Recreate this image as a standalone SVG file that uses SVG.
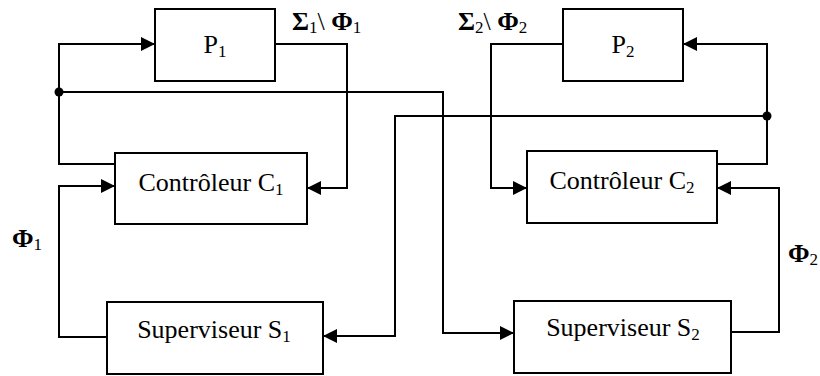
<svg xmlns="http://www.w3.org/2000/svg" width="820" height="376" viewBox="0 0 820 376">
<style>
.box{fill:#fff;stroke:#000;stroke-width:2}
.ln{fill:none;stroke:#000;stroke-width:2;marker-end:url(#ah)}
text{font-family:"Liberation Serif","Times New Roman",serif;font-size:26px;fill:#000}
.sub{font-size:17px}
.g{font-weight:bold}
</style>
<defs>
<marker id="ah" markerUnits="userSpaceOnUse" markerWidth="14" markerHeight="14" viewBox="0 0 13 13" refX="13" refY="6.5" orient="auto">
<path d="M0,0 L13,6.5 L0,13 Z" fill="#000"/>
</marker>
</defs>
<rect width="820" height="376" fill="#fff"/>
<g id="connectors">
<path class="ln" d="M115,164 H59 V44 H155"/>
<path class="ln" d="M59,92 H443 V333 H514"/>
<path class="ln" d="M275,44 H347 V188 H307"/>
<path class="ln" d="M107,337 H59 V186 H115"/>
<path class="ln" d="M717,164 H767 V44 H683"/>
<path class="ln" d="M767,116 H395 V336 H323"/>
<path class="ln" d="M563,44 H491 V188 H527"/>
<path class="ln" d="M731,332 H779 V188 H717"/>
<circle cx="59" cy="92" r="4.5" fill="#000"/>
<circle cx="767" cy="116" r="4.5" fill="#000"/>
</g>
<g id="P1">
<rect class="box" x="155" y="9" width="120" height="72"/>
<text x="215" y="53" text-anchor="middle">P<tspan class="sub" dy="4">1</tspan></text>
</g>
<g id="P2">
<rect class="box" x="563" y="9" width="120" height="72"/>
<text x="623" y="53" text-anchor="middle">P<tspan class="sub" dy="4">2</tspan></text>
</g>
<g id="C1">
<rect class="box" x="115" y="153" width="192" height="71"/>
<text x="211" y="191" text-anchor="middle">Contrôleur C<tspan class="sub" dy="4">1</tspan></text>
</g>
<g id="C2">
<rect class="box" x="527" y="151" width="190" height="72"/>
<text x="622" y="189" text-anchor="middle">Contrôleur C<tspan class="sub" dy="4">2</tspan></text>
</g>
<g id="S1">
<rect class="box" x="107" y="302" width="216" height="72"/>
<text x="214" y="338" text-anchor="middle">Superviseur S<tspan class="sub" dy="4">1</tspan></text>
</g>
<g id="S2">
<rect class="box" x="514" y="301" width="217" height="72"/>
<text x="623" y="336" text-anchor="middle">Superviseur S<tspan class="sub" dy="4">2</tspan></text>
</g>
<g id="labels">
<text x="292" y="30"><tspan class="g">Σ</tspan><tspan class="sub" dy="3">1</tspan><tspan dy="-3">\ </tspan><tspan class="g">Φ</tspan><tspan class="sub" dy="3">1</tspan></text>
<text x="458" y="30"><tspan class="g">Σ</tspan><tspan class="sub" dy="3">2</tspan><tspan dy="-3">\ </tspan><tspan class="g">Φ</tspan><tspan class="sub" dy="3">2</tspan></text>
<text x="12" y="247"><tspan class="g">Φ</tspan><tspan class="sub" dy="3">1</tspan></text>
<text x="788" y="262"><tspan class="g">Φ</tspan><tspan class="sub" dy="3">2</tspan></text>
</g>
</svg>
